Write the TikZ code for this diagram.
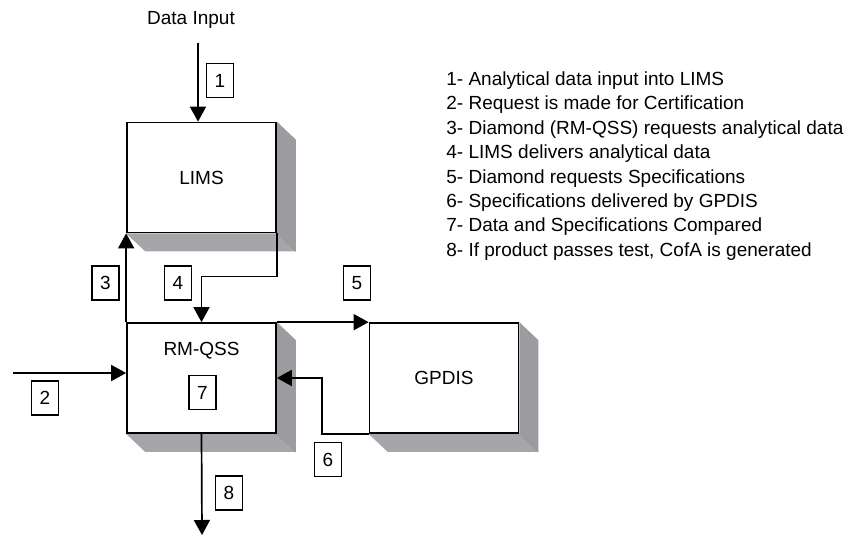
\documentclass[tikz,border=0pt]{standalone}
\usepackage{fontspec}
\setmainfont{Liberation Sans}
\usepackage{xcolor}
\usetikzlibrary{arrows.meta, backgrounds, calc}

\definecolor{shadeside}{HTML}{9C9CA0}
\definecolor{shadebot}{HTML}{A6A6AA}

\begin{document}
\begin{tikzpicture}[x=0.5pt, y=-0.5pt,
    every node/.style={font=\fontsize{9.5}{12.2}\selectfont},
    sysbox/.style={draw, line width=0.85pt, fill=white, minimum width=74.5pt, minimum height=55pt, inner sep=0pt},
    tag/.style={draw, line width=0.6pt, minimum width=13.5pt, minimum height=17pt, inner sep=0pt},
    flow/.style={line width=0.85pt, -{Triangle[length=7.5pt, width=8pt]}}]

    \useasboundingbox (0,0) rectangle (849,535);

    % systems
    \node[sysbox] (lims) at (201.5,177.5) {LIMS};
    \node[sysbox, label={[anchor=center, yshift=-14.5pt]north:RM-QSS}] (rmqss) at (201.5,378) {};
    \node[sysbox] (gpdis) at (444,378) {GPDIS};

    % 3d shadows behind the boxes
    \begin{scope}[on background layer]
    \foreach \n in {lims, rmqss, gpdis} {
        \fill[shadeside] (\n.north east) -- ++(19,18) -- ($(\n.south east)+(19,18)$) -- (\n.south east) -- cycle;
        \fill[shadebot] (\n.south west) -- ++(19,18) -- ($(\n.south east)+(19,18)$) -- (\n.south east) -- cycle;
        \draw[gray!80, line width=0.4pt] (\n.south east) -- ++(19,18);
    }
    \end{scope}

    % loose ends
    \node (din) at (191,20) {Data Input};
    \coordinate (dtop) at (198,43);
    \coordinate (req) at (13,373);
    \coordinate (out) at (202,535);

    % numbered steps
    \node[tag] (t1) at (220,80.5) {1};
    \node[tag] (t2) at (45,398) {2};
    \node[tag] (t3) at (105.5,283) {3};
    \node[tag] (t4) at (178,283) {4};
    \node[tag] (t5) at (357,283) {5};
    \node[tag] (t6) at (328,459.5) {6};
    \node[tag] (t7) at (202.5,392.5) {7};
    \node[tag] (t8) at (229,493) {8};

    % flows
    \draw[flow] (dtop) -- (dtop |- lims.north);
    \draw[flow] (req) -- (req -| rmqss.west);
    \draw[flow] (rmqss.north west) -- (lims.south west);
    \draw[flow] (lims.south east) -- ++(0,43) -| (rmqss.north);
    \draw[flow] (rmqss.north east) -- (gpdis.north west);
    \draw[flow] (gpdis.south west) -- ++(-47,0) |- (rmqss.east);
    \draw[flow] (rmqss.south) -- (out);

    % legend
    \node[anchor=west, align=left, inner sep=0pt] (legend) at (446,166) {%
        1- Analytical data input into LIMS\\
        2- Request is made for Certification\\
        3- Diamond (RM-QSS) requests analytical data\\
        4- LIMS delivers analytical data\\
        5- Diamond requests Specifications\\
        6- Specifications delivered by GPDIS\\
        7- Data and Specifications Compared\\
        8- If product passes test, CofA is generated};

\end{tikzpicture}
\end{document}
